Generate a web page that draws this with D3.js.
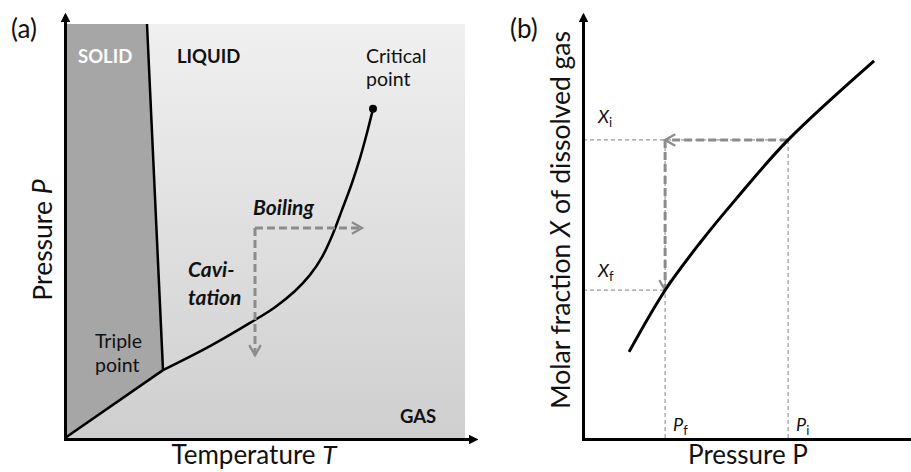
<!DOCTYPE html>
<html>
<head>
<meta charset="utf-8">
<script src="https://d3js.org/d3.v7.min.js"></script>
<style>
  body { margin: 0; background: #fff; }
  text { font-family: Lato, "Open Sans", sans-serif; fill: #111; }
  .axis path { stroke: #000; stroke-width: 3; }
  .phase { fill: none; stroke: #000; stroke-width: 2.5; }
  .move { fill: none; stroke: #8c8c8c; stroke-width: 3; stroke-dasharray: 8,4; }
  .guide { fill: none; stroke: #9a9a9a; stroke-width: 1.2; stroke-dasharray: 4,3; }
</style>
</head>
<body>
<svg id="fig" width="911" height="472"></svg>
<script>
// ---- panel (a): phase diagram, both axes in arbitrary units 0..100
const meltLine = [[20.5, 100], [24.5, 16.4]];
const sublimationLine = [[0, 0], [24.5, 16.4]];
const vaporCurve = [[24.5, 16.4], [36.25, 22.2], [46.25, 27.8], [52.5, 31.6], [57.5, 35.5], [61.25, 39.4],
                    [64.25, 43.7], [66.75, 48.8], [69.25, 55.1], [71.75, 61.6], [73.75, 67.6],
                    [75.5, 73.7], [77, 79.5]];
const criticalPoint = [77, 79.5];
const boilingCorner = [47.5, 50.7];
const boilingEndT = 74.25;
const cavitationEndP = 20.0;

// ---- panel (b): solubility of gas vs pressure
const solubility = [[14.3, 20.8], [25.5, 35.7], [36.3, 47.1], [47.5, 57.7], [63.7, 72.0], [90.4, 91.1]];
const pInitial = 63.7, xInitial = 72.0;
const pFinal = 25.5, xFinal = 35.7;

const svg = d3.select("#fig");
const defs = svg.append("defs");

const grad = defs.append("linearGradient").attr("id", "bg").attr("x1", 0).attr("y1", 0).attr("x2", 0).attr("y2", 1);
grad.append("stop").attr("offset", "0%").attr("stop-color", "#f0f0f0");
grad.append("stop").attr("offset", "100%").attr("stop-color", "#cfcfcf");

defs.append("marker").attr("id", "chev")
    .attr("viewBox", "0 0 10 10").attr("refX", 8).attr("refY", 5)
    .attr("markerWidth", 4.8).attr("markerHeight", 4.8).attr("orient", "auto")
    .attr("markerUnits", "strokeWidth")
  .append("path").attr("d", "M1,1 L8,5 L1,9").attr("fill", "none")
    .attr("stroke", "#8c8c8c").attr("stroke-width", 1.6);

defs.append("marker").attr("id", "axisArrow")
    .attr("viewBox", "0 0 10 10").attr("refX", 2).attr("refY", 5)
    .attr("markerWidth", 3.3).attr("markerHeight", 3.3).attr("orient", "auto")
    .attr("markerUnits", "strokeWidth")
  .append("path").attr("d", "M0,0 L10,5 L0,10 Z").attr("fill", "#000");

// ================= panel (a)
const xA = d3.scaleLinear().domain([0, 100]).range([65, 465]);
const yA = d3.scaleLinear().domain([0, 100]).range([438, 24]);
const gA = svg.append("g");
const line = d3.line().x(d => xA(d[0])).y(d => yA(d[1]));
const curveA = d3.line().x(d => xA(d[0])).y(d => yA(d[1])).curve(d3.curveCatmullRom.alpha(0.5));

gA.append("rect").attr("x", xA(0)).attr("y", yA(100))
  .attr("width", xA(100) - xA(0)).attr("height", yA(0) - yA(100)).attr("fill", "url(#bg)");

gA.append("path").attr("fill", "#a6a6a6").attr("stroke", "none")
  .attr("d", line([[0, 0], [0, 100], meltLine[0], meltLine[1], sublimationLine[0]]) + "Z");

gA.append("path").attr("class", "phase").attr("d", line(meltLine));
gA.append("path").attr("class", "phase").attr("d", line(sublimationLine));
gA.append("path").attr("class", "phase").attr("d", curveA(vaporCurve));
gA.append("circle").attr("cx", xA(criticalPoint[0])).attr("cy", yA(criticalPoint[1])).attr("r", 4).attr("fill", "#000");

gA.append("path").attr("class", "move").attr("marker-end", "url(#chev)")
  .attr("d", line([boilingCorner, [boilingEndT, boilingCorner[1]]]));
gA.append("path").attr("class", "move").attr("marker-end", "url(#chev)")
  .attr("d", line([boilingCorner, [boilingCorner[0], cavitationEndP]]));

// axes (no ticks), arrow heads at the ends
const axisAx = d3.scaleLinear().domain([0, 100]).range([65, 470]);
const axisAy = d3.scaleLinear().domain([0, 100]).range([440.5, 20]);
gA.append("g").attr("class", "axis").attr("transform", "translate(0,439)")
  .call(d3.axisBottom(axisAx).ticks(0).tickSizeOuter(0))
  .select(".domain").attr("marker-end", "url(#axisArrow)");
gA.append("g").attr("class", "axis").attr("transform", "translate(65,0)")
  .call(d3.axisLeft(axisAy).ticks(0).tickSizeOuter(0))
  .select(".domain").attr("marker-end", "url(#axisArrow)");

function label(g, x, y, txt, opts) {
  const t = g.append("text").attr("x", x).attr("y", y).text(txt)
    .style("font-size", (opts.size || 16) + "px");
  if (opts.bold) t.style("font-weight", "bold");
  if (opts.italic) t.style("font-style", "italic");
  if (opts.fill) t.style("fill", opts.fill);
  return t;
}

label(gA, 11, 38, "(a)", {size: 26});
label(gA, xA(3.25), yA(90.6), "SOLID", {size: 18.5, bold: true, fill: "#fff"});
label(gA, xA(28), yA(90.6), "LIQUID", {size: 18.5, bold: true});
label(gA, xA(75.25), yA(90.6), "Critical", {size: 19.5});
label(gA, xA(75.25), yA(85.0), "point", {size: 19.5});
label(gA, xA(47), yA(53.9), "Boiling", {size: 21, bold: true, italic: true});
label(gA, xA(30.75), yA(38.9), "Cavi-", {size: 21, bold: true, italic: true});
label(gA, xA(30.75), yA(32.1), "tation", {size: 21, bold: true, italic: true});
label(gA, xA(7.5), yA(21.7), "Triple", {size: 19.5});
label(gA, xA(7.5), yA(15.9), "point", {size: 19.5});
label(gA, xA(83.75), yA(3.6), "GAS", {size: 18.5, bold: true});

const tT = gA.append("text").attr("x", 254).attr("y", 464).attr("text-anchor", "middle").style("font-size", "26px");
tT.append("tspan").text("Temperature ");
tT.append("tspan").style("font-style", "italic").text("T");

const tP = gA.append("text").attr("transform", "translate(52,240) rotate(-90)").attr("text-anchor", "middle").style("font-size", "26.5px");
tP.append("tspan").text("Pressure ");
tP.append("tspan").style("font-style", "italic").text("P");

// ================= panel (b)
const xB = d3.scaleLinear().domain([0, 100]).range([583, 905]);
const yB = d3.scaleLinear().domain([0, 100]).range([438, 24]);
const gB = svg.append("g");
const lineB = d3.line().x(d => xB(d[0])).y(d => yB(d[1]));
const curveB = d3.line().x(d => xB(d[0])).y(d => yB(d[1])).curve(d3.curveCatmullRom.alpha(0.5));

// thin guides
gB.append("path").attr("class", "guide").attr("d", lineB([[0, xInitial], [pInitial, xInitial]]));
gB.append("path").attr("class", "guide").attr("d", lineB([[pInitial, xInitial], [pInitial, 0]]));
gB.append("path").attr("class", "guide").attr("d", lineB([[0, xFinal], [pFinal, xFinal]]));
gB.append("path").attr("class", "guide").attr("d", lineB([[pFinal, xInitial], [pFinal, 0]]));

// decompression path
gB.append("path").attr("class", "move").attr("marker-end", "url(#chev)")
  .attr("d", lineB([[pInitial, xInitial], [pFinal, xInitial]]));
gB.append("path").attr("class", "move").attr("marker-end", "url(#chev)")
  .attr("d", lineB([[pFinal, xInitial], [pFinal, xFinal]]));

gB.append("path").attr("class", "phase").style("stroke-width", 3).attr("d", curveB(solubility));

const axisBx = d3.scaleLinear().domain([0, 100]).range([583, 911]);
const axisBy = d3.scaleLinear().domain([0, 100]).range([440.5, 20]);
gB.append("g").attr("class", "axis").attr("transform", "translate(0,439)")
  .call(d3.axisBottom(axisBx).ticks(0).tickSizeOuter(0));
gB.append("g").attr("class", "axis").attr("transform", "translate(583,0)")
  .call(d3.axisLeft(axisBy).ticks(0).tickSizeOuter(0))
  .select(".domain").attr("marker-end", "url(#axisArrow)");

label(gB, 510, 38, "(b)", {size: 26});

function sub(g, x, y, main, s) {
  const t = g.append("text").attr("x", x).attr("y", y).style("font-size", "18px");
  t.append("tspan").style("font-style", "italic").text(main);
  t.append("tspan").attr("dy", 4).style("font-size", "13px").text(s);
}
sub(gB, 598, yB(xInitial) - 17, "X", "i");
sub(gB, 598, yB(xFinal) - 13, "X", "f");
sub(gB, xB(pFinal) + 8, 431, "P", "f");
sub(gB, xB(pInitial) + 8, 431, "P", "i");

gB.append("text").attr("x", 748).attr("y", 464).attr("text-anchor", "middle").style("font-size", "26px")
  .text("Pressure P");

const tM = gB.append("text").attr("transform", "translate(570,220) rotate(-90)").attr("text-anchor", "middle").style("font-size", "26.5px");
tM.append("tspan").text("Molar fraction ");
tM.append("tspan").style("font-style", "italic").text("X");
tM.append("tspan").text(" of dissolved gas");
</script>
</body>
</html>
